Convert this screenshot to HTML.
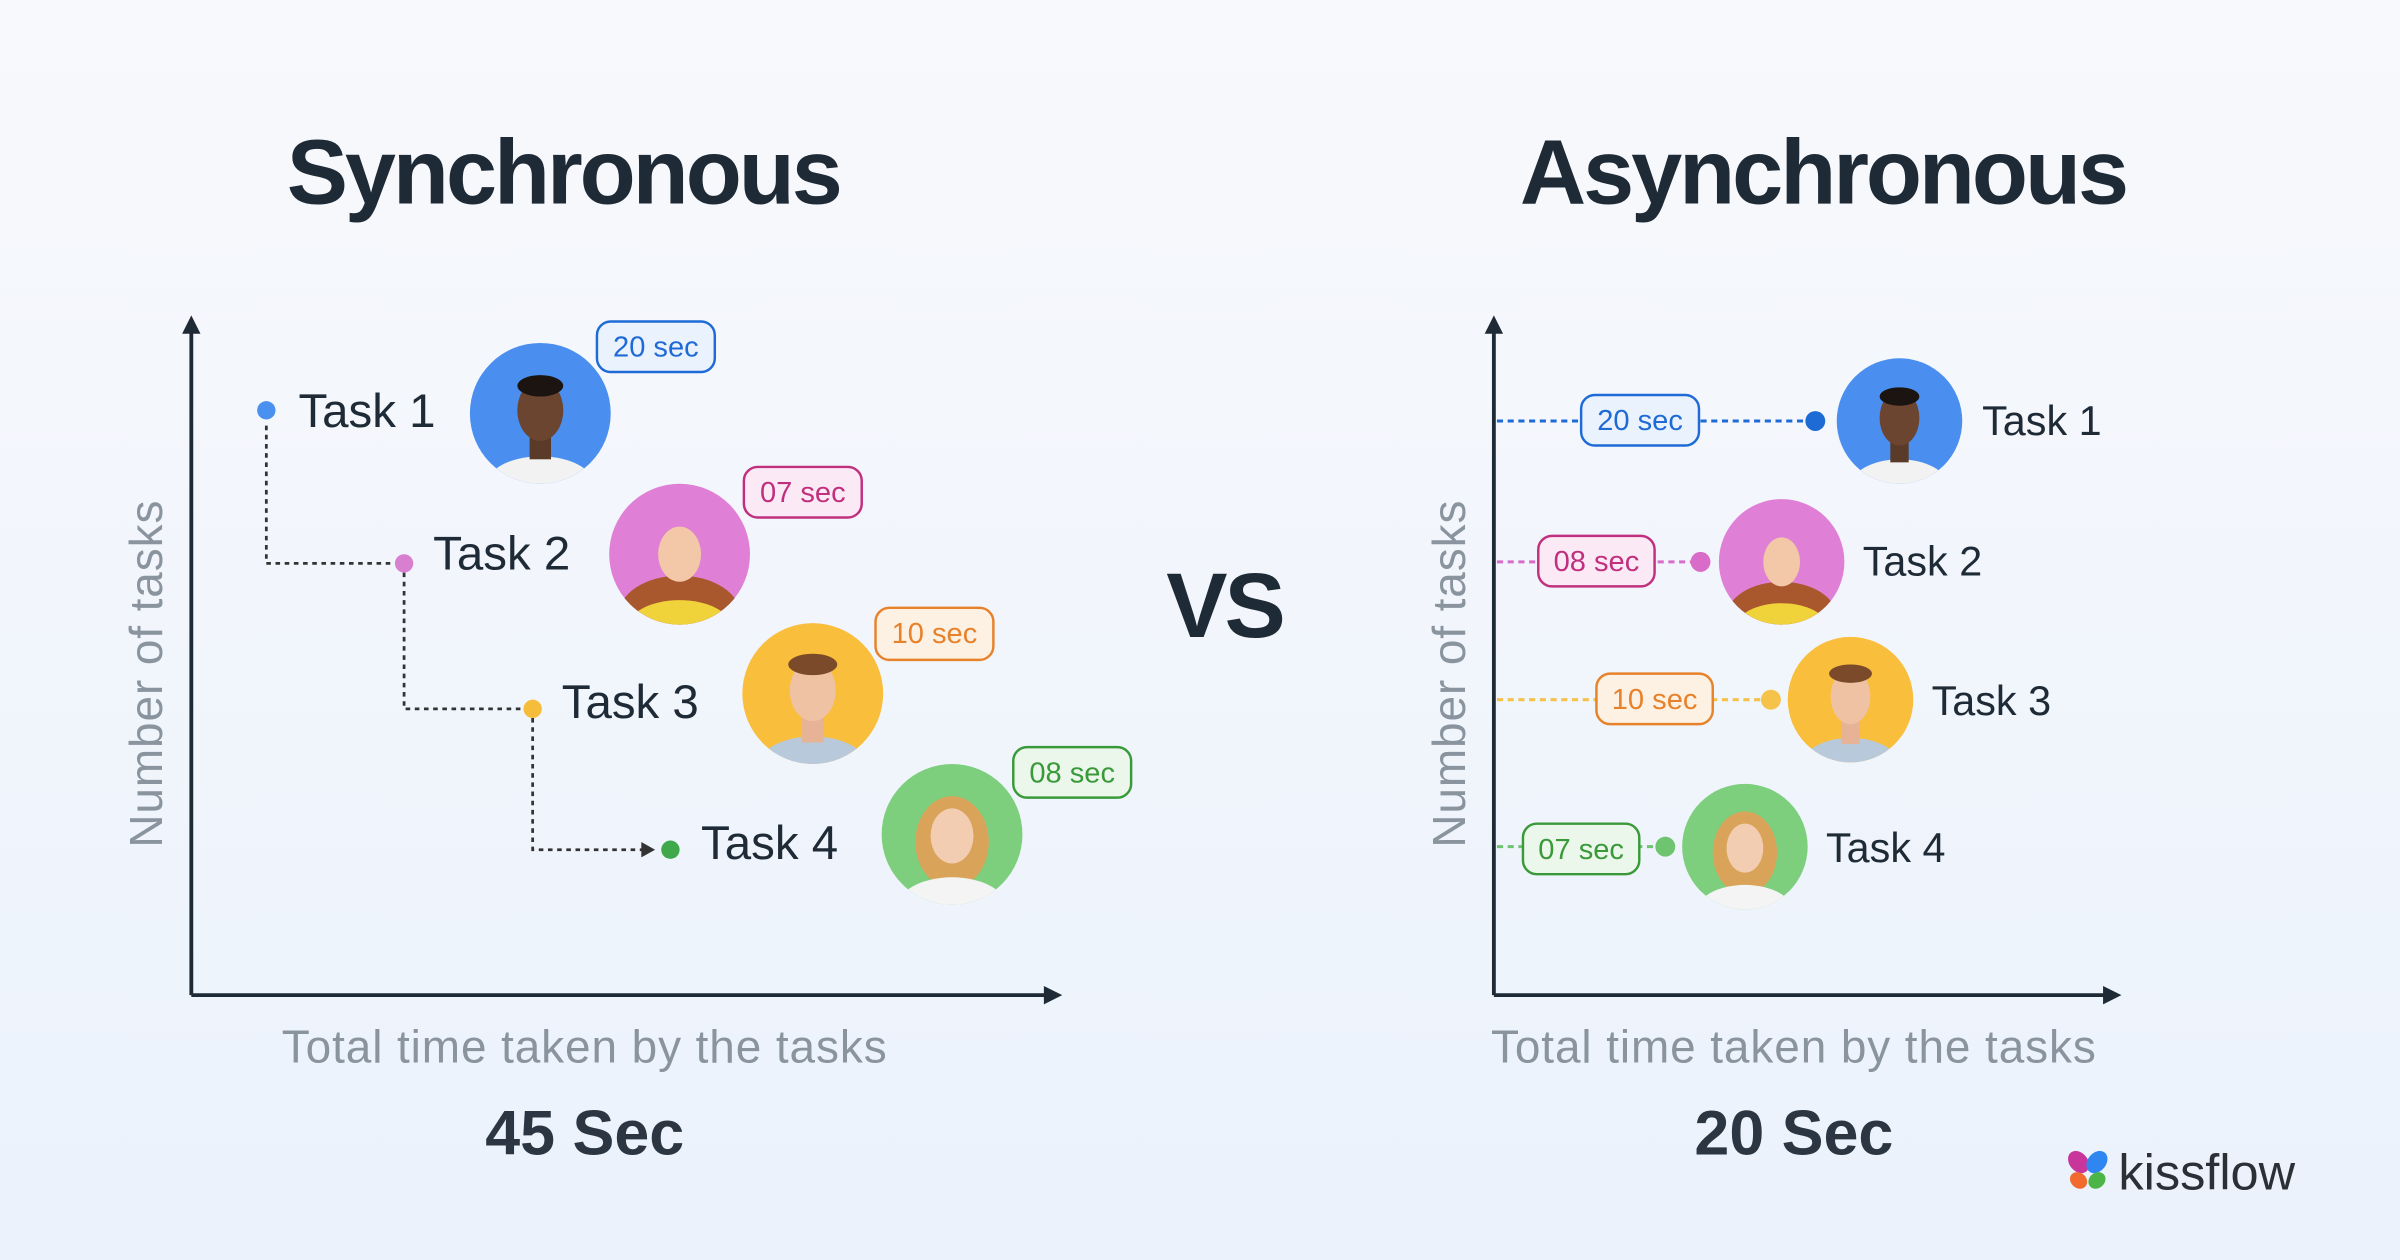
<!DOCTYPE html>
<html><head><meta charset="utf-8"><style>
html,body{margin:0;padding:0;width:2400px;height:1260px;overflow:hidden;background:#f3f6fb}
svg{display:block}
</style></head><body>
<svg width="2400" height="1260" viewBox="0 0 1568 823" preserveAspectRatio="none" xmlns="http://www.w3.org/2000/svg" font-family="Liberation Sans, sans-serif">
<defs>
<linearGradient id="bg" x1="0" y1="0" x2="0" y2="1"><stop offset="0" stop-color="#f8f9fc"/><stop offset="1" stop-color="#ebf2fc"/></linearGradient>
<clipPath id="c1"><circle cx="353" cy="270" r="46"/></clipPath>
<clipPath id="c2"><circle cx="444" cy="362" r="46"/></clipPath>
<clipPath id="c3"><circle cx="531" cy="453" r="46"/></clipPath>
<clipPath id="c4"><circle cx="622" cy="545" r="46"/></clipPath>
<clipPath id="d1"><circle cx="1241" cy="275" r="41"/></clipPath>
<clipPath id="d2"><circle cx="1164" cy="367" r="41"/></clipPath>
<clipPath id="d3"><circle cx="1209" cy="457" r="41"/></clipPath>
<clipPath id="d4"><circle cx="1140" cy="553" r="41"/></clipPath>
</defs>
<rect width="1568" height="823" fill="url(#bg)"/>

<text x="368" y="133" text-anchor="middle" font-size="60" font-weight="bold" fill="#1e2a36" letter-spacing="-2">Synchronous</text>
<text x="1191" y="133" text-anchor="middle" font-size="60" font-weight="bold" fill="#1e2a36" letter-spacing="-2">Asynchronous</text>
<text x="800" y="416" text-anchor="middle" font-size="60" font-weight="bold" fill="#1e2a36" letter-spacing="-2">VS</text>

<g stroke="#1e2a36" stroke-width="2.5" fill="none">
<line x1="125" y1="214" x2="125" y2="650"/><line x1="125" y1="650" x2="686" y2="650"/>
<line x1="976" y1="214" x2="976" y2="650"/><line x1="976" y1="650" x2="1378" y2="650"/>
</g>
<g fill="#1e2a36">
<polygon points="125,206 119,218 131,218"/><polygon points="694,650 682,644 682,656"/>
<polygon points="976,206 970,218 982,218"/><polygon points="1386,650 1374,644 1374,656"/>
</g>
<g font-size="30" fill="#8a949f" letter-spacing="0.6">
<text transform="translate(106,440) rotate(-90)" text-anchor="middle">Number of tasks</text>
<text transform="translate(957,440) rotate(-90)" text-anchor="middle">Number of tasks</text>
<text x="382" y="694" text-anchor="middle">Total time taken by the tasks</text>
<text x="1172" y="694" text-anchor="middle">Total time taken by the tasks</text>
</g>
<text x="382" y="754" text-anchor="middle" font-size="41" font-weight="bold" fill="#2b3642">45 Sec</text>
<text x="1172" y="754" text-anchor="middle" font-size="41" font-weight="bold" fill="#2b3642">20 Sec</text>

<g stroke="#333" stroke-width="1.8" stroke-dasharray="3,3" fill="none">
<polyline points="174,278 174,368 258,368"/>
<polyline points="264,374 264,463 342,463"/>
<polyline points="348,469 348,555 420,555"/>
</g>
<polygon points="428,555 419,550 419,560" fill="#333"/>
<circle cx="174" cy="268" r="6" fill="#4a90f0"/>
<circle cx="264" cy="368" r="6" fill="#d97fd0"/>
<circle cx="348" cy="463" r="6" fill="#f5bd3a"/>
<circle cx="438" cy="555" r="6" fill="#3fa84a"/>
<g font-size="31" fill="#1e2a36">
<text x="195" y="279">Task 1</text><text x="283" y="372">Task 2</text><text x="367" y="469">Task 3</text><text x="458" y="561">Task 4</text>
</g>
<g font-size="27" fill="#1e2a36">
<text x="1295" y="284">Task 1</text><text x="1217" y="376">Task 2</text><text x="1262" y="467">Task 3</text><text x="1193" y="563">Task 4</text>
</g>

<g>
<circle cx="353" cy="270" r="46" fill="#4a8ff0"/>
<g clip-path="url(#c1)"><ellipse cx="353" cy="318" rx="36" ry="20" fill="#f2f2f2"/><rect x="346" y="280" width="14" height="20" fill="#5a3b2a"/><ellipse cx="353" cy="268" rx="15" ry="20" fill="#6b4530"/><ellipse cx="353" cy="252" rx="15" ry="7" fill="#1c1410"/></g>
<circle cx="444" cy="362" r="46" fill="#e07fd6"/>
<g clip-path="url(#c2)"><ellipse cx="444" cy="402" rx="40" ry="26" fill="#a8582c"/><ellipse cx="444" cy="410" rx="34" ry="18" fill="#f0d23a"/><ellipse cx="444" cy="362" rx="14" ry="18" fill="#f2c8a8"/></g>
<circle cx="531" cy="453" r="46" fill="#f9be3b"/>
<g clip-path="url(#c3)"><ellipse cx="531" cy="501" rx="36" ry="20" fill="#b9c9dc"/><rect x="524" y="465" width="14" height="20" fill="#e6b396"/><ellipse cx="531" cy="451" rx="15" ry="20" fill="#efc2a4"/><ellipse cx="531" cy="434" rx="16" ry="7" fill="#7a4a2a"/></g>
<circle cx="622" cy="545" r="46" fill="#7dcf7d"/>
<g clip-path="url(#c4)"><ellipse cx="622" cy="550" rx="24" ry="30" fill="#d9a45a"/><ellipse cx="622" cy="593" rx="36" ry="20" fill="#f4f4f4"/><ellipse cx="622" cy="546" rx="14" ry="18" fill="#f2cdb2"/></g>

<circle cx="1241" cy="275" r="41" fill="#4a8ff0"/>
<g clip-path="url(#d1)"><ellipse cx="1241" cy="318" rx="32" ry="18" fill="#f2f2f2"/><rect x="1235" y="284" width="12" height="18" fill="#5a3b2a"/><ellipse cx="1241" cy="273" rx="13" ry="18" fill="#6b4530"/><ellipse cx="1241" cy="259" rx="13" ry="6" fill="#1c1410"/></g>
<circle cx="1164" cy="367" r="41" fill="#e07fd6"/>
<g clip-path="url(#d2)"><ellipse cx="1164" cy="403" rx="36" ry="23" fill="#a8582c"/><ellipse cx="1164" cy="410" rx="30" ry="16" fill="#f0d23a"/><ellipse cx="1164" cy="367" rx="12" ry="16" fill="#f2c8a8"/></g>
<circle cx="1209" cy="457" r="41" fill="#f9be3b"/>
<g clip-path="url(#d3)"><ellipse cx="1209" cy="500" rx="32" ry="18" fill="#b9c9dc"/><rect x="1203" y="468" width="12" height="18" fill="#e6b396"/><ellipse cx="1209" cy="455" rx="13" ry="18" fill="#efc2a4"/><ellipse cx="1209" cy="440" rx="14" ry="6" fill="#7a4a2a"/></g>
<circle cx="1140" cy="553" r="41" fill="#7dcf7d"/>
<g clip-path="url(#d4)"><ellipse cx="1140" cy="557" rx="21" ry="27" fill="#d9a45a"/><ellipse cx="1140" cy="596" rx="32" ry="18" fill="#f4f4f4"/><ellipse cx="1140" cy="554" rx="12" ry="16" fill="#f2cdb2"/></g>
</g>

<g stroke-width="2" stroke-dasharray="4,3" fill="none">
<line x1="978" y1="275" x2="1186" y2="275" stroke="#1f6bd6"/>
<line x1="978" y1="367" x2="1111" y2="367" stroke="#d96cc9"/>
<line x1="978" y1="457" x2="1157" y2="457" stroke="#f5c24a"/>
<line x1="978" y1="553" x2="1088" y2="553" stroke="#6fc46f"/>
</g>
<circle cx="1186" cy="275" r="6.5" fill="#1f6bd6"/>
<circle cx="1111" cy="367" r="6.5" fill="#d96cc9"/>
<circle cx="1157" cy="457" r="6.5" fill="#f5c24a"/>
<circle cx="1088" cy="553" r="6.5" fill="#6fc46f"/>

<g font-size="19" text-anchor="middle" stroke-width="1.6">
<rect x="390" y="210" width="77" height="33" rx="9" fill="#eaf2fd" stroke="#1f6bd6"/><text x="428.5" y="233" fill="#1f6bd6" stroke="none">20 sec</text>
<rect x="486" y="305" width="77" height="33" rx="9" fill="#fbeaf6" stroke="#c0307f"/><text x="524.5" y="328" fill="#c0307f" stroke="none">07 sec</text>
<rect x="572" y="397" width="77" height="34" rx="9" fill="#fdf1e3" stroke="#e8822a"/><text x="610.5" y="420" fill="#e8822a" stroke="none">10 sec</text>
<rect x="662" y="488" width="77" height="33" rx="9" fill="#ecf7ec" stroke="#3a9a3a"/><text x="700.5" y="511" fill="#3a9a3a" stroke="none">08 sec</text>
<rect x="1033" y="258" width="77" height="33" rx="9" fill="#eaf2fd" stroke="#1f6bd6"/><text x="1071.5" y="281" fill="#1f6bd6" stroke="none">20 sec</text>
<rect x="1005" y="350" width="76" height="33" rx="9" fill="#fbeaf6" stroke="#c0307f"/><text x="1043" y="373" fill="#c0307f" stroke="none">08 sec</text>
<rect x="1043" y="440" width="76" height="33" rx="9" fill="#fdf1e3" stroke="#e8822a"/><text x="1081" y="463" fill="#e8822a" stroke="none">10 sec</text>
<rect x="995" y="538" width="76" height="33" rx="9" fill="#ecf7ec" stroke="#3a9a3a"/><text x="1033" y="561" fill="#3a9a3a" stroke="none">07 sec</text>
</g>

<g transform="translate(1364,765)">
<ellipse cx="-6" cy="-6" rx="6" ry="8" transform="rotate(-40 -6 -6)" fill="#c8369c"/>
<ellipse cx="6" cy="-6" rx="6" ry="8" transform="rotate(40 6 -6)" fill="#2f86f0"/>
<ellipse cx="-6" cy="6" rx="6" ry="5" transform="rotate(40 -6 6)" fill="#f26a2e"/>
<ellipse cx="6" cy="6" rx="6" ry="5" transform="rotate(-40 6 6)" fill="#4cb548"/>
</g>
<text x="1384" y="777" font-size="33" fill="#2b3037">kissflow</text>
</svg>
</body></html>
